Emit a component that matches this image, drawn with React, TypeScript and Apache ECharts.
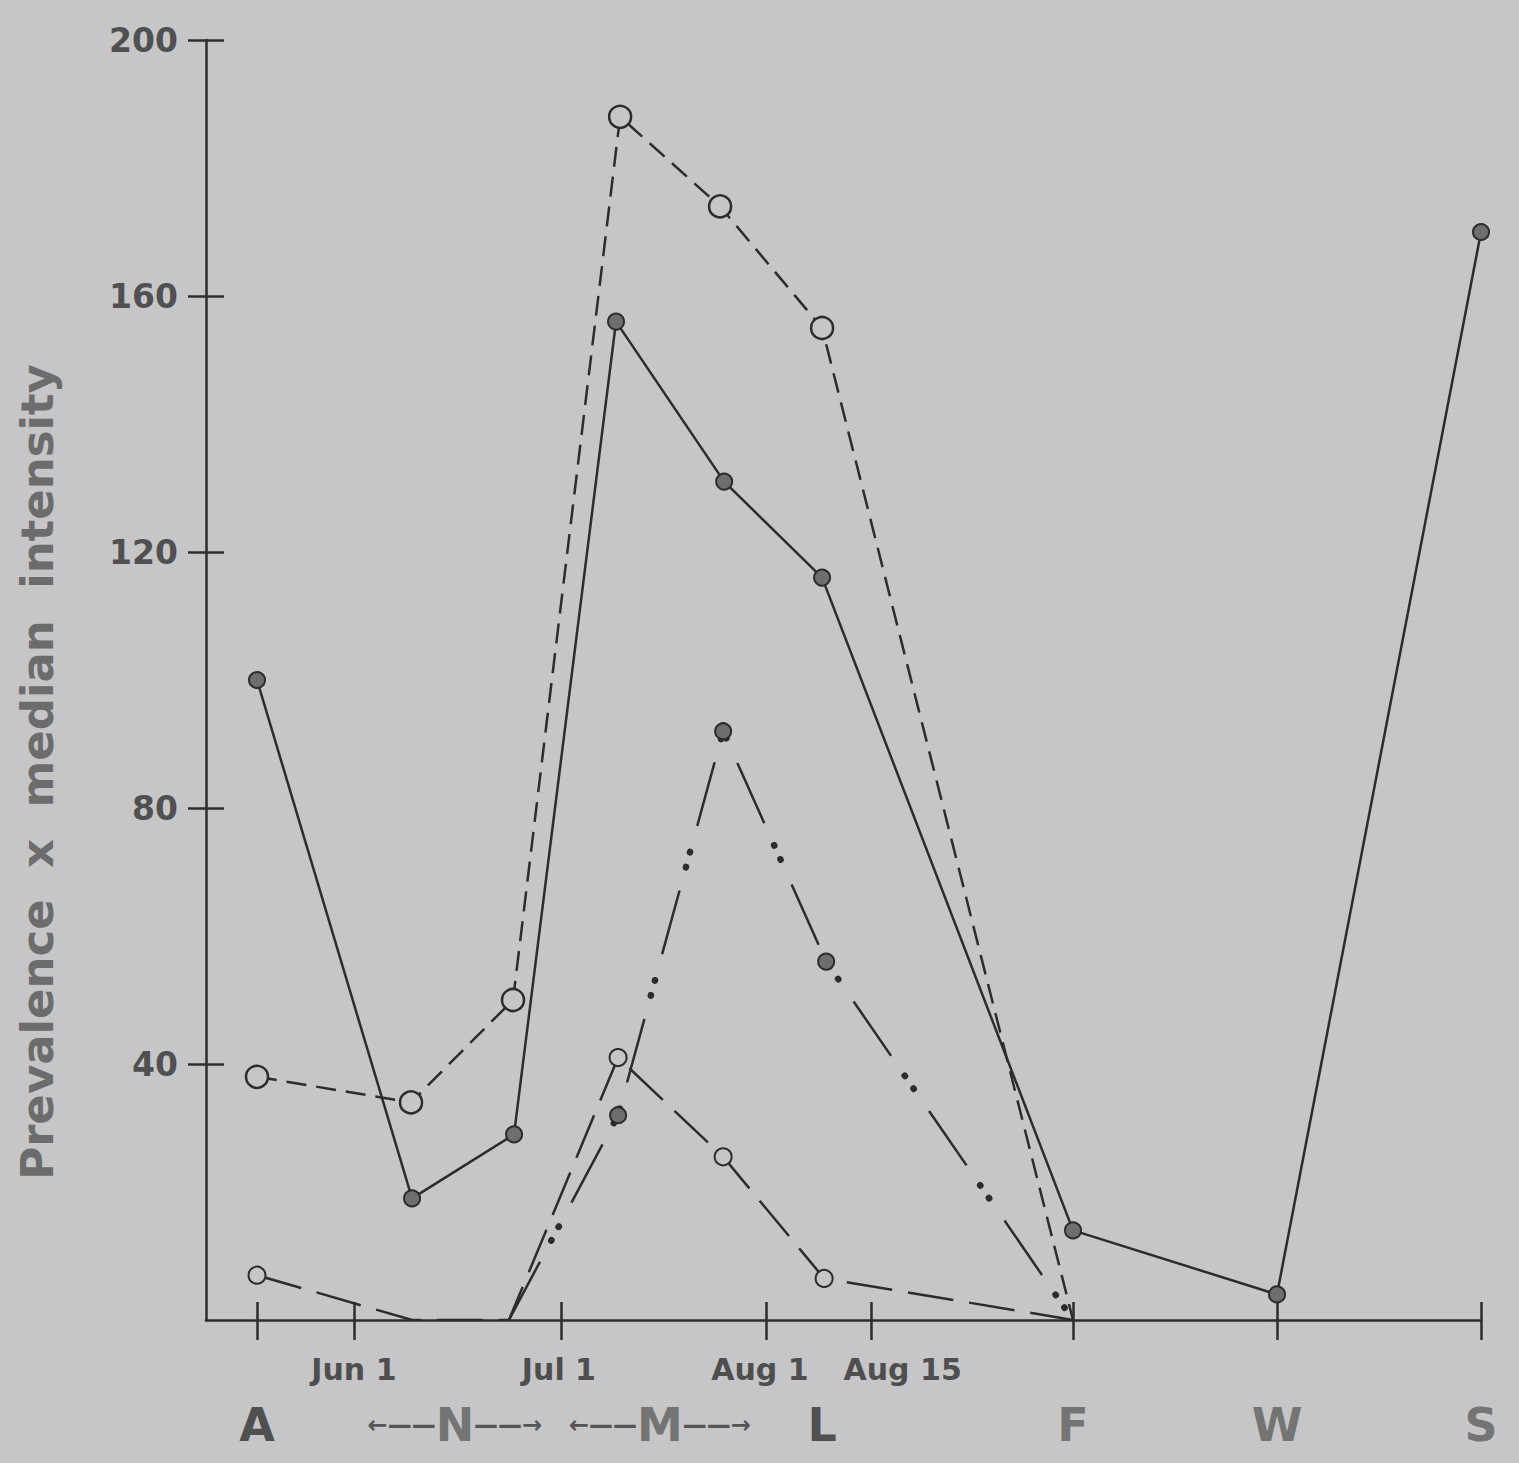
import React, { useEffect, useRef } from 'react';
import * as echarts from 'echarts';

// ---- axis ticks / labels ----
const yTickVals = [40, 80, 120, 160, 200];
const xTickVals = [0, 0.475, 1.49, 2.495, 3.01, 4, 5, 6];
const dateLabelPos = [0.475, 1.48, 2.465, 3.165];
const dateLabelText = ['Jun 1', 'Jul 1', 'Aug 1', 'Aug 15'];
const groupLabelPos = [0, 0.97, 1.975, 2.77, 4, 5, 6];
const groupLabelText = ['A', 'N', 'M', 'L', 'F', 'W', 'S'];

// ---- series values (x in station units: A=0 ... F=4, W=5, S=6) ----
const solidX = [0, 0.76, 1.26, 1.76, 2.29, 2.77, 4, 5, 6];
const solidY = [100, 19, 29, 156, 131, 116, 14, 4, 170];

const shortDashX = [0, 0.755, 1.255, 1.78, 2.27, 2.77, 4];
const shortDashY = [38, 34, 50, 188, 174, 155, 0];
const shortDashMarked = [true, true, true, true, true, true, false];

const longDashX = [0, 0.76, 1.235, 1.77, 2.285, 2.78, 4];
const longDashY = [7, 0, 0, 41, 25.5, 6.5, 0];
const longDashMarked = [true, false, false, true, true, true, false];

const dashDotX = [1.235, 1.77, 2.285, 2.79, 4];
const dashDotY = [0, 32, 92, 56, 0];
const dashDotMarked = [false, true, true, true, false];

const BG = '#c6c6c8';
const INK = '#2c2c2c';

function build(xs: number[], ys: number[], marked?: boolean[]) {
  return xs.map((x, i) =>
    marked && !marked[i] ? { value: [x, ys[i]], symbol: 'none' } : { value: [x, ys[i]] }
  );
}

function findIdx(arr: number[], v: number) {
  for (let i = 0; i < arr.length; i++) if (Math.abs(arr[i] - v) < 1e-6) return i;
  return -1;
}

export default function App() {
  const ref = useRef<HTMLDivElement>(null);
  useEffect(() => {
    const chart = echarts.init(ref.current!, null, { renderer: 'svg' });
    const axisLineStyle = { color: INK, width: 2.5 };
    const option: any = {
      animation: false,
      backgroundColor: BG,
      grid: { left: 206, right: 38, top: 40, bottom: 143, containLabel: false },
      xAxis: [
        {
          type: 'value',
          position: 'bottom',
          min: -0.25,
          max: 6,
          axisLine: { show: true, onZero: false, lineStyle: axisLineStyle },
          axisTick: { show: true, inside: false, length: 20, customValues: xTickVals, lineStyle: axisLineStyle },
          splitLine: { show: false },
          axisLabel: {
            show: true,
            customValues: dateLabelPos,
            hideOverlap: false,
            margin: 34,
            fontFamily: 'DejaVu Sans',
            fontWeight: 'bold',
            fontSize: 30,
            color: '#4e4e4e',
            formatter: (v: number) => {
              const i = findIdx(dateLabelPos, v);
              return i >= 0 ? dateLabelText[i] : '';
            },
          },
        },
        {
          type: 'value',
          position: 'bottom',
          min: -0.25,
          max: 6,
          axisLine: { show: false, onZero: false },
          axisTick: { show: true, inside: true, length: 18, customValues: xTickVals, lineStyle: axisLineStyle },
          splitLine: { show: false },
          axisLabel: {
            show: true,
            customValues: groupLabelPos,
            hideOverlap: false,
            margin: 82,
            fontFamily: 'DejaVu Sans',
            fontWeight: 'bold',
            fontSize: 46,
            color: '#6e6e6e',
            rich: {
              dark: { fontFamily: 'DejaVu Sans', fontWeight: 'bold', fontSize: 46, color: '#505050' },
              lite: { fontFamily: 'DejaVu Sans', fontWeight: 'bold', fontSize: 46, color: '#747474' },
              arr: { fontFamily: 'DejaVu Sans', fontWeight: 'bold', fontSize: 24, color: '#555555' },
            },
            formatter: (v: number) => {
              const i = findIdx(groupLabelPos, v);
              if (i < 0) return '';
              const t = groupLabelText[i];
              if (t === 'N' || t === 'M') return `{arr|←——}{lite|${t}}{arr|——→}`;
              if (t === 'A' || t === 'L') return `{dark|${t}}`;
              return `{lite|${t}}`;
            },
          },
        },
      ],
      yAxis: [
        {
          type: 'value',
          position: 'left',
          min: 0,
          max: 200,
          interval: 40,
          name: 'Prevalence  x  median  intensity',
          nameLocation: 'middle',
          nameRotate: 90,
          nameGap: 146,
          nameTextStyle: {
            fontFamily: 'DejaVu Sans',
            fontWeight: 'bold',
            fontSize: 45,
            color: '#6c6c6c',
            padding: [0, 184, 0, 0],
          },
          axisLine: { show: true, onZero: false, lineStyle: axisLineStyle },
          axisTick: { show: true, inside: false, length: 18, customValues: yTickVals, lineStyle: axisLineStyle },
          splitLine: { show: false },
          axisLabel: {
            show: true,
            customValues: yTickVals,
            margin: 28,
            fontFamily: 'DejaVu Sans',
            fontWeight: 'bold',
            fontSize: 33,
            color: '#505050',
          },
        },
        {
          type: 'value',
          position: 'left',
          min: 0,
          max: 200,
          interval: 40,
          axisLine: { show: false, onZero: false },
          axisTick: { show: true, inside: true, length: 18, customValues: yTickVals, lineStyle: axisLineStyle },
          splitLine: { show: false },
          axisLabel: { show: false },
        },
      ],
      series: [
        {
          type: 'line',
          silent: true,
          z: 3,
          data: build(shortDashX, shortDashY, shortDashMarked),
          symbol: 'circle',
          symbolSize: 22,
          lineStyle: { color: INK, width: 2.5, type: [20, 10] },
          itemStyle: { color: BG, borderColor: INK, borderWidth: 2.5 },
        },
        {
          type: 'line',
          silent: true,
          z: 3,
          data: build(longDashX, longDashY, longDashMarked),
          symbol: 'circle',
          symbolSize: 17,
          lineStyle: { color: INK, width: 2.5, type: [46, 16] },
          itemStyle: { color: BG, borderColor: INK, borderWidth: 2 },
        },
        {
          // dash part of the dash-dot-dot line
          type: 'line',
          silent: true,
          z: 4,
          data: build(dashDotX, dashDotY, dashDotMarked),
          symbol: 'circle',
          symbolSize: 16,
          lineStyle: { color: INK, width: 2.5, type: [66, 67] },
          itemStyle: { color: '#6e6e70', borderColor: INK, borderWidth: 2 },
        },
        {
          // dot part of the dash-dot-dot line
          type: 'line',
          silent: true,
          z: 4,
          data: build(dashDotX, dashDotY),
          symbol: 'none',
          lineStyle: { color: INK, width: 6.5, type: [0.5, 15, 0.5, 117], dashOffset: 42.5, cap: 'round' },
        },
        {
          type: 'line',
          silent: true,
          z: 5,
          data: build(solidX, solidY),
          symbol: 'circle',
          symbolSize: 16,
          lineStyle: { color: INK, width: 2.5, type: 'solid' },
          itemStyle: { color: '#6e6e70', borderColor: INK, borderWidth: 2 },
        },
      ],
    };
    chart.setOption(option);
    return () => chart.dispose();
  }, []);
  return (
    <div
      ref={ref}
      style={{ position: 'absolute', left: 0, top: 0, width: 1519, height: 1463 }}
    />
  );
}
